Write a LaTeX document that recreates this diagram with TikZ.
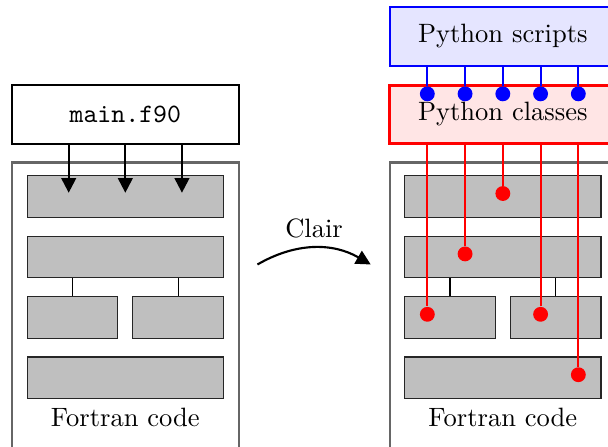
\documentclass[tikz,border=0pt]{standalone}
\usetikzlibrary{arrows.meta}

\tikzset{
  block/.style={draw=black!85, fill=lightgray, minimum height=0.55cm, inner sep=0pt},
  frame/.style={draw=black!60, thick, minimum width=3cm, minimum height=3.8cm},
  feed/.style={thick, -{Triangle[length=5.5pt,width=5.5pt]}},
  pydot/.style={circle, fill=#1, inner sep=0pt, minimum size=5.6pt},
}

\begin{document}
\begin{tikzpicture}

  \useasboundingbox (-1.66,-3.305) rectangle (6.393,2.603);
  \clip (-1.66,-3.305) rectangle (6.393,2.603);

  % plain Fortran program
  \node[draw,thick,minimum width=3cm,minimum height=0.78cm] at (0,1.09) (main) {\texttt{main.f90}};
  \node[frame] at (0,-1.45) (code1) {};

  \node[block,minimum width=2.6cm] at (0,0) (a1) {};
  \node[block,minimum width=2.6cm] at (0,-0.8) (a2) {};
  \node[block,minimum width=1.2cm] at (-0.7,-1.6) (a3) {};
  \node[block,minimum width=1.2cm] at (0.7,-1.6) (a4) {};
  \node[block,minimum width=2.6cm] at (0,-2.4) (a5) {};
  \node at (0,-2.93) (lab1) {Fortran code};

  \draw (a3) -- (a3 |- a2.south);
  \draw (a4) -- (a4 |- a2.south);

  \draw[feed] ([xshift=-0.75cm]main.south) -- ([xshift=-0.75cm,yshift=0.5mm]a1.center);
  \draw[feed] (main.south) -- ([yshift=0.5mm]a1.center);
  \draw[feed] ([xshift=0.75cm]main.south) -- ([xshift=0.75cm,yshift=0.5mm]a1.center);

  % wrapping
  \coordinate (c1) at (1.75,-0.9);
  \coordinate (c2) at (3.25,-0.9);
  \draw[feed] (c1) to[bend left=30] node[above] (clair) {Clair} (c2);

  % same code driven from Python
  \node[draw=blue,thick,fill=blue!10,minimum width=3cm,minimum height=0.78cm] at (5,2.12) (scripts) {Python scripts};
  \node[draw=red,very thick,fill=red!10,minimum width=3cm,minimum height=0.77cm] at (5,1.09) (classes) {Python classes};
  \node[frame] at (5,-1.45) (code2) {};

  \node[block,minimum width=2.6cm] at (5,0) (b1) {};
  \node[block,minimum width=2.6cm] at (5,-0.8) (b2) {};
  \node[block,minimum width=1.2cm] at (4.3,-1.6) (b3) {};
  \node[block,minimum width=1.2cm] at (5.7,-1.6) (b4) {};
  \node[block,minimum width=2.6cm] at (5,-2.4) (b5) {};
  \node at (5,-2.93) (lab2) {Fortran code};

  \draw (b3) -- (b3 |- b2.south);
  \draw (b4) -- (b4 |- b2.south);

  \node[pydot=blue] at (4,1.36) (s1) {};
  \node[pydot=blue] at (4.5,1.36) (s2) {};
  \node[pydot=blue] at (5,1.36) (s3) {};
  \node[pydot=blue] at (5.5,1.36) (s4) {};
  \node[pydot=blue] at (6,1.36) (s5) {};

  \draw[blue,thick] (scripts.south -| s1) -- (s1);
  \draw[blue,thick] (scripts.south -| s2) -- (s2);
  \draw[blue,thick] (scripts.south -| s3) -- (s3);
  \draw[blue,thick] (scripts.south -| s4) -- (s4);
  \draw[blue,thick] (scripts.south -| s5) -- (s5);

  \node[pydot=red] at (4,-1.56) (r1) {};
  \node[pydot=red] at (4.5,-0.76) (r2) {};
  \node[pydot=red] at (5,0.04) (r3) {};
  \node[pydot=red] at (5.5,-1.56) (r4) {};
  \node[pydot=red] at (6,-2.36) (r5) {};

  \draw[red,thick] (classes.south -| r1) -- (r1);
  \draw[red,thick] (classes.south -| r2) -- (r2);
  \draw[red,thick] (classes.south -| r3) -- (r3);
  \draw[red,thick] (classes.south -| r4) -- (r4);
  \draw[red,thick] (classes.south -| r5) -- (r5);

\end{tikzpicture}
\end{document}
